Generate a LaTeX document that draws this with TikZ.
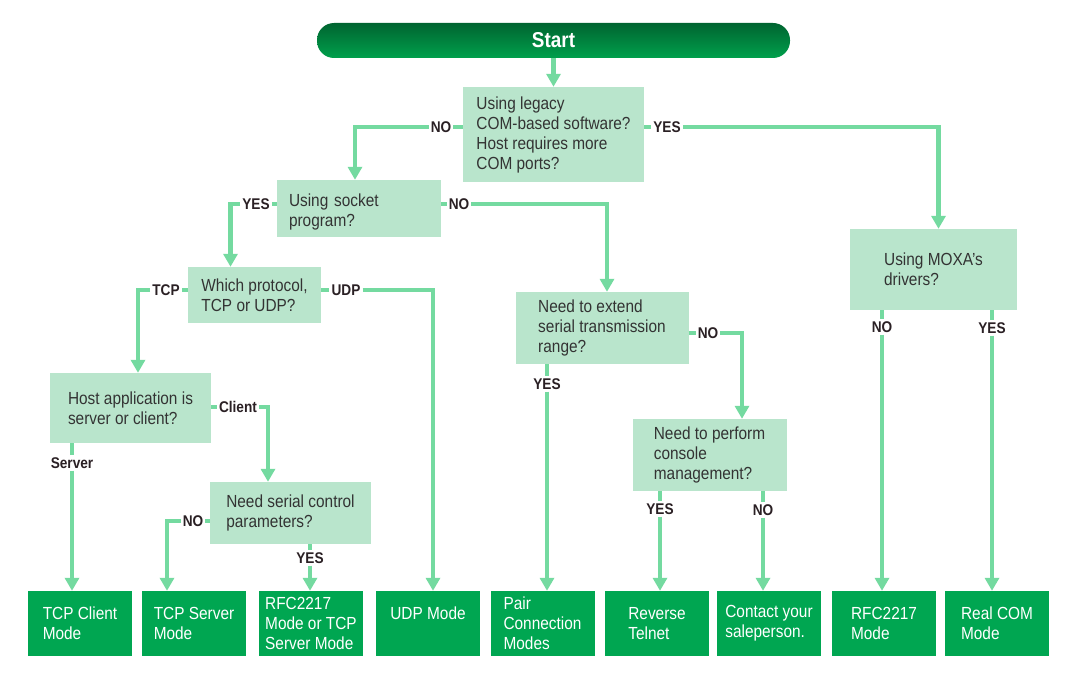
\documentclass[tikz,border=0pt]{standalone}
\usepackage{fontspec}
\setmainfont{Liberation Sans}[FakeStretch=0.88]
\usepackage{xcolor}
\usepackage{tikz}
\usetikzlibrary{arrows.meta}

\definecolor{flowgreen}{HTML}{74DAA0}
\definecolor{askfill}{HTML}{B9E5CC}
\definecolor{modefill}{HTML}{00A651}
\definecolor{startdark}{HTML}{006430}
\definecolor{startlight}{HTML}{00A04C}
\definecolor{asktext}{HTML}{333333}
\definecolor{answertext}{HTML}{2A2024}

\tikzset{
	terminal/.style = {rectangle, rounded corners=17pt, minimum width=473pt, minimum height=35pt, top color=startdark, bottom color=startlight, text=white, font=\bfseries\fontsize{21.5}{24}\selectfont},
	decision/.style = {rectangle, fill=askfill, text=asktext, align=left, inner sep=3pt, font=\fontsize{17.5}{20}\selectfont, execute at begin node=\rule{0pt}{20.5pt}},
	mode/.style = {rectangle, fill=modefill, text=white, align=left, inner sep=3pt, minimum width=104pt, minimum height=65pt, font=\fontsize{17.5}{20}\selectfont},
	answer/.style = {fill=white, text=answertext, inner sep=2pt, font=\bfseries\fontsize{15.5}{18}\selectfont},
	line/.style = {draw=flowgreen, line width=4.5pt, -{Triangle[width=14pt,length=13pt]}},
	stub/.style = {draw=flowgreen, line width=4.5pt}
}

\begin{document}
\begin{tikzpicture}[x=1pt, y=-1pt]
			\useasboundingbox (0,0) rectangle (1076,682);
			\node [terminal] (start) at (553.5,40.5) {Start};
			\node [decision, minimum width=181pt, minimum height=95pt] (legacy) at (553.5,134.5) {Using legacy\\COM-based software?\\Host requires more\\COM ports?};
			\node [decision, minimum width=164pt, minimum height=57pt, text width=140pt] (socket) at (359,208.5) {Using socket\\program?};
			\node [decision, minimum width=133pt, minimum height=56pt] (protocol) at (254.5,295) {Which protocol,\\TCP or UDP?};
			\node [decision, minimum width=161pt, minimum height=70pt] (host) at (130.5,408) {Host application is\\server or client?};
			\node [decision, minimum width=161pt, minimum height=62pt] (serial) at (290.5,513) {Need serial control\\parameters?};
			\node [decision, minimum width=173pt, minimum height=72pt] (extend) at (602,328) {Need to extend\\serial transmission\\range?};
			\node [decision, minimum width=154pt, minimum height=72pt] (console) at (709.5,455) {Need to perform\\console\\management?};
			\node [decision, minimum width=167pt, minimum height=81pt] (moxa) at (933.5,269.5) {Using MOXA's\\drivers?};
			\node [mode] (tcpClient) at (80,623.5) {TCP Client\\Mode};
			\node [mode] (tcpServer) at (194,623.5) {TCP Server\\Mode};
			\node [mode] (rfcOrTcp) at (311,623.5) {RFC2217\\Mode or TCP\\Server Mode};
			\node [mode] (udpMode) at (428,623.5) {UDP Mode\\~};
			\node [mode] (pairMode) at (542.5,623.5) {Pair\\Connection\\Modes};
			\node [mode] (reverseTelnet) at (657,623.5) {Reverse\\Telnet};
			\node [mode] (contactSales) at (769,623.5) {Contact your\\saleperson.};
			\node [mode] (rfcMode) at (884,623.5) {RFC2217\\Mode};
			\node [mode] (realCom) at (997,623.5) {Real COM\\Mode};
			\node [answer] (noLegacy) at (441,127) {NO};
			\node [answer] (yesLegacy) at (667,127) {YES};
			\node [answer] (yesSocket) at (256,204) {YES};
			\node [answer] (noSocket) at (459,204) {NO};
			\node [answer] (tcpProto) at (166,290) {TCP};
			\node [answer] (udpProto) at (346,290) {UDP};
			\node [answer] (clientHost) at (238,407) {Client};
			\node [answer] (serverHost) at (72,463) {Server};
			\node [answer] (noSerial) at (193,521) {NO};
			\node [answer] (yesSerial) at (310,558) {YES};
			\node [answer] (yesExtend) at (547,384) {YES};
			\node [answer] (noExtend) at (708,333) {NO};
			\node [answer] (yesConsole) at (660,509) {YES};
			\node [answer] (noConsole) at (763,510) {NO};
			\node [answer] (noMoxa) at (882,327) {NO};
			\node [answer] (yesMoxa) at (992,328) {YES};
			\path [line] (start) -- (legacy);
			\path [stub] (legacy.west |- noLegacy) -- (noLegacy);
			\path [line] (noLegacy) -| ([xshift=-4pt]socket.north);
			\path [stub] (legacy.east |- yesLegacy) -- (yesLegacy);
			\path [line] (yesLegacy) -| ([xshift=5pt]moxa.north);
			\path [stub] (socket.west |- yesSocket) -- (yesSocket);
			\path [line] (yesSocket) -| ([xshift=-24pt]protocol.north);
			\path [stub] (socket.east |- noSocket) -- (noSocket);
			\path [line] (noSocket) -| ([xshift=5pt]extend.north);
			\path [stub] (protocol.west |- tcpProto) -- (tcpProto);
			\path [line] (tcpProto) -| ([xshift=7.5pt]host.north);
			\path [stub] (protocol.east |- udpProto) -- (udpProto);
			\path [line] (udpProto) -| ([xshift=5pt]udpMode.north);
			\path [stub] (host.east |- clientHost) -- (clientHost);
			\path [line] (clientHost) -| ([xshift=-22.5pt]serial.north);
			\path [stub] (host.south -| serverHost) -- (serverHost);
			\path [line] (serverHost) -- (serverHost |- tcpClient.north);
			\path [stub] (serial.west |- noSerial) -- (noSerial);
			\path [line] (noSerial) -| ([xshift=-27pt]tcpServer.north);
			\path [stub] (serial.south -| yesSerial) -- (yesSerial);
			\path [line] (yesSerial) -- (yesSerial |- rfcOrTcp.north);
			\path [stub] (extend.south -| yesExtend) -- (yesExtend);
			\path [line] (yesExtend) -- (yesExtend |- pairMode.north);
			\path [stub] (extend.east |- noExtend) -- (noExtend);
			\path [line] (noExtend) -| ([xshift=32.5pt]console.north);
			\path [stub] (console.south -| yesConsole) -- (yesConsole);
			\path [line] (yesConsole) -- (yesConsole |- reverseTelnet.north);
			\path [stub] (console.south -| noConsole) -- (noConsole);
			\path [line] (noConsole) -- (noConsole |- contactSales.north);
			\path [stub] (moxa.south -| noMoxa) -- (noMoxa);
			\path [line] (noMoxa) -- (noMoxa |- rfcMode.north);
			\path [stub] (moxa.south -| yesMoxa) -- (yesMoxa);
			\path [line] (yesMoxa) -- (yesMoxa |- realCom.north);
		\end{tikzpicture}
\end{document}
